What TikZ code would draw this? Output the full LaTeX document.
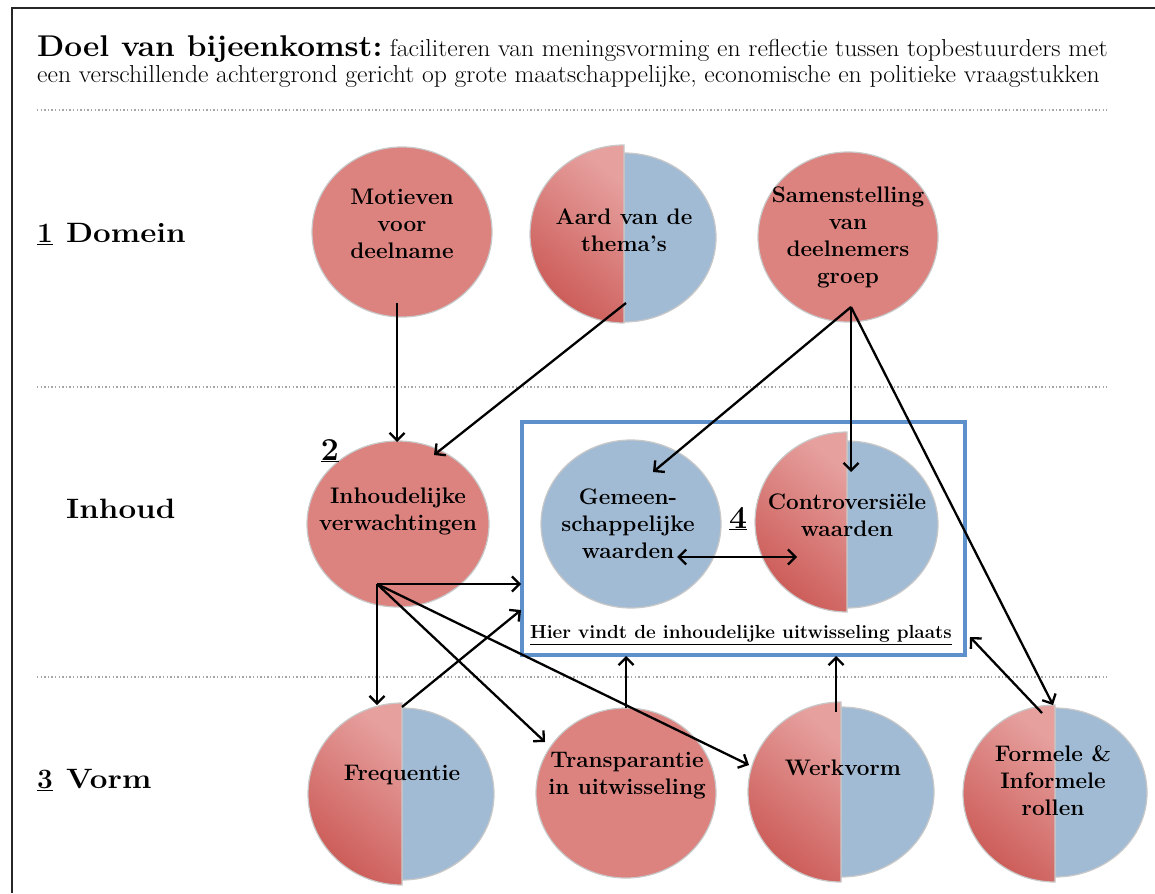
\documentclass[tikz,border=0pt]{standalone}
\usepackage{fontspec}
\usetikzlibrary{shapes.geometric,arrows.meta}
\definecolor{bluec}{HTML}{A2BBD4}
\definecolor{redc}{HTML}{DC827F}
\definecolor{redL}{HTML}{E6A19F}
\definecolor{redD}{HTML}{CB5955}
\definecolor{boxc}{HTML}{5E90CB}
\definecolor{edgec}{HTML}{C8C8C8}
\newcommand\halfpie[7]{%
  \filldraw[fill=bluec, draw=edgec, line width=1.2pt] (#1,#2-#4) arc[start angle=-90, end angle=90, x radius=#3, y radius=#4] -- cycle;
  \shadedraw[top color=redL, bottom color=redD, shading angle=-40, draw=edgec, line width=1.2pt] (#1,#5+#7) arc[start angle=90, end angle=270, x radius=#6, y radius=#7] -- cycle;
}
\newcommand\wide[2]{\scalebox{#1}[1]{#2}}
\begin{document}
\begin{tikzpicture}[x=1pt,y=-1pt,
  lbl/.style={font=\bfseries\fontsize{22.5}{27}\selectfont, align=center, text=black, inner sep=0pt},
  side/.style={font=\bfseries\fontsize{28}{30}\selectfont, anchor=base west, inner sep=0pt},
  num/.style={font=\bfseries\fontsize{32}{34}\selectfont, anchor=base, inner sep=0pt},
  full/.style={ellipse, draw=edgec, line width=1.2pt, fill=redc, inner sep=0pt},
  arr/.style={line width=2.3pt, -{Straight Barb[length=7.5pt,width=15pt,line width=2.3pt]}},
  darr/.style={line width=2.3pt, {Straight Barb[length=7.5pt,width=15pt,line width=2.3pt]}-{Straight Barb[length=7.5pt,width=15pt,line width=2.3pt]}},
  dotline/.style={draw=black!35, line width=1.4pt, dash pattern=on 1.4pt off 2.2pt}]
\useasboundingbox (0,0) rectangle (1155,893);
\fill[white] (0,0) rectangle (1155,893);
% frame
\draw[line width=2.8pt, black!85] (12,893) -- (12,8) -- (1155,8);
% title
\node[anchor=base west, inner sep=0pt, font=\bfseries\fontsize{30}{32}\selectfont] (title) at (37,57) {\wide{1.053}{Doel van bijeenkomst:}};
\node[anchor=base west, inner sep=0pt, font=\fontsize{24.5}{26}\selectfont] (desc1) at ([xshift=7pt]title.base east) {\wide{1.047}{faciliteren van meningsvorming en reflectie tussen topbestuurders met}};
\node[anchor=base west, inner sep=0pt, font=\fontsize{24.5}{26}\selectfont] (desc2) at (37,83) {\wide{1.047}{een verschillende achtergrond gericht op grote maatschappelijke, economische en politieke vraagstukken}};
% dotted separators
\draw[dotline] (37,110) -- (1107,110);
\draw[dotline] (37,387) -- (1107,387);
\draw[dotline] (37,677) -- (1107,677);
% side labels
\node[side] (n1) at (37,243) {\underline{1}};
\node[side] (dom) at (66,243) {\wide{1.12}{Domein}};
\node[side] (inhd) at (66,518) {\wide{1.12}{Inhoud}};
\node[side] (n3) at (37,788) {\underline{3}};
\node[side] (vorm) at (66,788) {\wide{1.12}{Vorm}};
% box
\node[draw=boxc, line width=3.5pt, minimum width=443pt, minimum height=233pt, inner sep=0pt] (box) at (743.5,538.5) {};
% circles
\node[full, minimum width=180pt, minimum height=170pt] (mot) at (402,232) {};
\halfpie{624}{237.5}{92}{84.5}{234}{94}{89}
\coordinate (aard) at (624,237);
\node[full, minimum width=180pt, minimum height=170pt] (sam) at (848,237) {};
\node[full, minimum width=182pt, minimum height=166pt] (inh) at (398,524) {};
\node[full, fill=bluec, minimum width=180pt, minimum height=168pt] (gem) at (631,524) {};
\halfpie{847}{524.5}{91}{83.5}{522}{92}{90}
\coordinate (con) at (847,524);
\halfpie{402}{794}{92}{86}{794}{94}{91}
\coordinate (fre) at (402,794);
\node[full, minimum width=180pt, minimum height=170pt] (tra) at (626,793) {};
\halfpie{841}{792}{93}{85}{792}{93}{90}
\coordinate (wer) at (841,792);
\halfpie{1055}{792.5}{92}{84.5}{793.5}{92}{88.5}
\coordinate (for) at (1055,792);
% connector end points
\coordinate (motB) at (397,303);
\coordinate (aardB) at (626,303);
\coordinate (samB) at (851,307);
\coordinate (inhT) at (397,442);
\coordinate (inhR) at (434,455);
\coordinate (gemT) at (653,472);
\coordinate (conT) at (851,472);
\coordinate (forT) at (1053,705);
\coordinate (inhB) at (377,584);
\coordinate (boxL1) at (521,584);
\coordinate (freT) at (377,705);
\coordinate (traT) at (545,742);
\coordinate (werL) at (749,765);
\coordinate (freS) at (402,707);
\coordinate (boxL2) at (521,610);
\coordinate (traS) at (626,708);
\coordinate (boxB1) at (626,656);
\coordinate (werS) at (836,712);
\coordinate (boxB2) at (836,656);
\coordinate (forS) at (1042,713);
\coordinate (boxR) at (970,637);
\coordinate (gemR) at (677,557);
\coordinate (conL) at (797,557);
% connectors
\draw[arr] (motB) -- (inhT);
\draw[arr] (aardB) -- (inhR);
\draw[arr] (samB) -- (gemT);
\draw[arr] (samB) -- (conT);
\draw[arr] (samB) -- (forT);
\draw[arr] (inhB) -- (boxL1);
\draw[arr] (inhB) -- (freT);
\draw[arr] (inhB) -- (traT);
\draw[arr] (inhB) -- (werL);
\draw[arr] (freS) -- (boxL2);
\draw[arr] (traS) -- (boxB1);
\draw[arr] (werS) -- (boxB2);
\draw[arr] (forS) -- (boxR);
\draw[darr] (gemR) -- (conL);
% circle texts
\node[lbl] (motT) at (402,224) {Motieven\\voor\\deelname};
\node[lbl] (aardT) at (624,230) {Aard van de\\thema’s};
\node[lbl] (samT) at (848,237) {Samenstelling\\van\\deelnemers\\groep};
\node[lbl] (inhTx) at (398,511) {Inhoudelijke\\verwachtingen};
\node[lbl] (gemTx) at (628,524) {Gemeen-\\schappelijke\\waarden};
\node[lbl] (conTx) at (847,515) {Controversiële\\waarden};
\node[lbl] (freTx) at (402,775) {Frequentie};
\node[lbl] (traTx) at (627,776) {Transparantie\\in uitwisseling};
\node[lbl] (werTx) at (843,768) {Werkvorm};
\node[lbl] (forTx) at (1053,781) {Formele \&\\Informele\\rollen};
\node[num] (n2) at (330,460) {\underline{2}};
\node[num] (n4) at (738,528) {\underline{4}};
\node[lbl, font=\bfseries\fontsize{18.9}{20}\selectfont] (hier) at (741,635) {\underline{Hier vindt de inhoudelijke uitwisseling plaats}};
\end{tikzpicture}
\end{document}
